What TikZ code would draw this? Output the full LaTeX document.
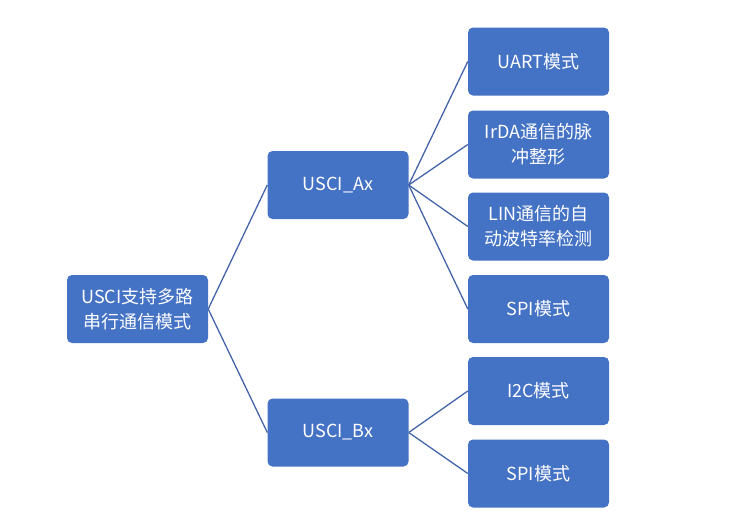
\documentclass[tikz,border=0pt]{standalone}
\usepackage{fontspec}
\setmainfont{Noto Sans CJK SC}
\begin{document}
\begin{tikzpicture}[x=1pt,y=-1pt,
  bx/.style={draw=none,fill={rgb,255:red,68;green,114;blue,196},rounded corners=5pt,minimum width=141pt,minimum height=68pt,text=white,align=center,font=\fontsize{18}{25}\selectfont,inner sep=1pt},
  ln/.style={draw={rgb,255:red,68;green,100;blue,170},line width=1.3pt}]
\useasboundingbox (0,0) rectangle (748,520);
\node[bx] (r) at (137.5,309) {USCI支持多路\\串行通信模式};
\node[bx] (a) at (338,185) {USCI\_Ax};
\node[bx] (b) at (338,432.5) {USCI\_Bx};
\node[bx] (a1) at (538.5,61.5) {UART模式};
\node[bx] (a2) at (538.5,144.5) {IrDA通信的脉\\冲整形};
\node[bx] (a3) at (538.5,226.5) {LIN通信的自\\动波特率检测};
\node[bx] (a4) at (538.5,309) {SPI模式};
\node[bx] (b1) at (538.5,391) {I2C模式};
\node[bx] (b2) at (538.5,473.5) {SPI模式};
\foreach \s/\t in {r/a,r/b,a/a1,a/a2,a/a3,a/a4,b/b1,b/b2}
  \draw[ln] (\s.east) -- (\t.west);
\end{tikzpicture}
\end{document}
